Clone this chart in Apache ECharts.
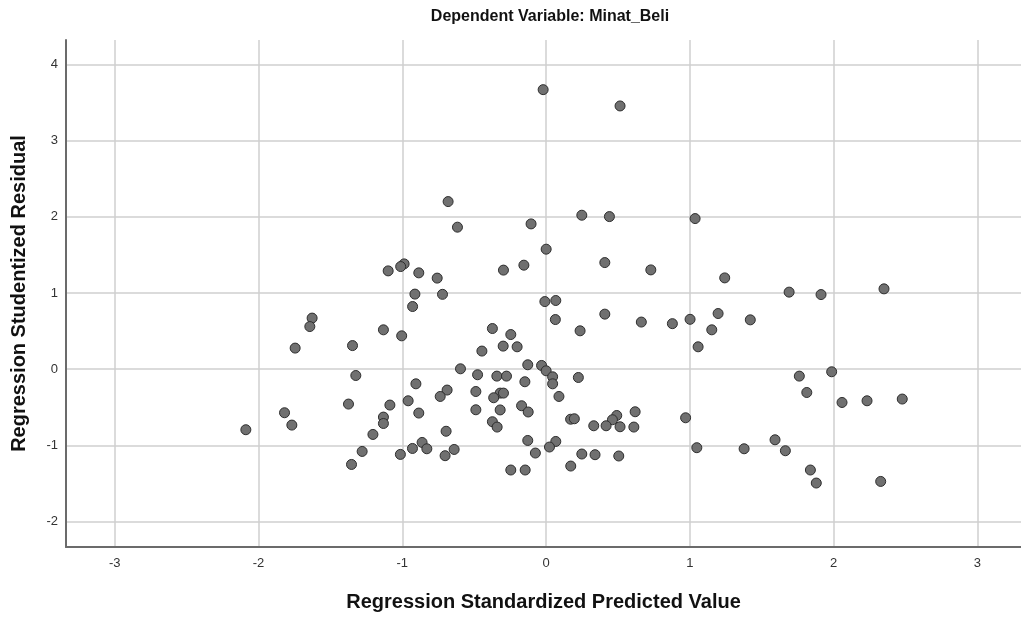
<!DOCTYPE html>
<html>
<head>
<meta charset="utf-8">
<script src="https://cdn.jsdelivr.net/npm/echarts@6/dist/echarts.min.js"></script>
<style>html,body{margin:0;padding:0;background:#fff}#c{width:1021px;height:619px}</style>
</head>
<body>
<div id="c"></div>
<script>
const titleText = "Dependent Variable: Minat_Beli";
const xName = "Regression Standardized Predicted Value";
const yName = "Regression Studentized Residual";
const xTicks = [-3, -2, -1, 0, 1, 2, 3];
const yTicks = [-2, -1, 0, 1, 2, 3, 4];

const predicted = [
  -0.987, -1.011, -1.098, -0.885, -0.757, -0.912, -0.720, -0.928, -1.627, -1.643,
  -1.131, -1.004, -1.745, -1.346, -1.323, -0.905, -0.688, -0.736, -0.959, -1.374,
  -1.086, -1.819, -0.885, -1.131, -1.131, -1.768, -2.088, -0.695, -1.204, -0.862,
  -0.929, -0.829, -1.279, -1.013, -0.702, -1.353,
  -0.020, 0.515, -0.681, -0.616, 0.249, 0.441, -0.104, 0.001, 0.409, 0.729,
  -0.296, -0.154, -0.008, 0.068, 0.065, 0.409, 0.663, 0.879, 1.002, -0.373,
  -0.245, 0.237,
  -0.298, -0.201, -0.446, -0.127, -0.031, -0.595, 0.001, -0.476, -0.342, -0.275,
  0.046, 0.225, -0.147, 0.046, -0.488, -0.319, -0.296, -0.364, 0.090, -0.488,
  -0.319, -0.170, -0.124, 0.620, 0.492, 0.462, 0.171, 0.197, 0.332, 0.418,
  0.515, 0.611, 0.971, -0.373, -0.340, -0.127, 0.068, 0.024, -0.639, -0.074,
  0.249, 0.341, 0.506, 0.172, -0.245, -0.145,
  1.037, 1.243, 1.691, 1.913, 2.351, 1.197, 1.421, 1.153,
  1.058, 1.762, 1.987, 1.814, 2.059, 2.233, 2.478, 1.049, 1.378, 1.593,
  1.665, 1.839, 1.880, 2.328
];
const residual = [
  1.383, 1.348, 1.291, 1.265, 1.196, 0.986, 0.983, 0.823, 0.671, 0.560,
  0.517, 0.438, 0.277, 0.310, -0.083, -0.192, -0.274, -0.358, -0.415, -0.458,
  -0.471, -0.572, -0.576, -0.629, -0.713, -0.734, -0.795, -0.815, -0.857, -0.962,
  -1.041, -1.045, -1.080, -1.119, -1.136, -1.251,
  3.671, 3.457, 2.201, 1.865, 2.022, 2.004, 1.908, 1.576, 1.400, 1.304,
  1.301, 1.366, 0.888, 0.902, 0.652, 0.723, 0.619, 0.598, 0.655, 0.534,
  0.455, 0.504,
  0.303, 0.294, 0.238, 0.058, 0.049, 0.005, -0.021, -0.073, -0.091, -0.091,
  -0.100, -0.109, -0.165, -0.192, -0.293, -0.314, -0.314, -0.375, -0.358, -0.533,
  -0.535, -0.480, -0.562, -0.559, -0.608, -0.664, -0.657, -0.651, -0.743, -0.743,
  -0.756, -0.760, -0.638, -0.690, -0.760, -0.936, -0.949, -1.022, -1.054, -1.101,
  -1.114, -1.123, -1.140, -1.272, -1.324, -1.324,
  1.978, 1.199, 1.012, 0.980, 1.055, 0.731, 0.648, 0.517,
  0.294, -0.091, -0.034, -0.306, -0.437, -0.415, -0.392, -1.031, -1.045, -0.927,
  -1.071, -1.324, -1.495, -1.474
];

const points = predicted.map((x, i) => [x, residual[i]]);

const chart = echarts.init(document.getElementById('c'), null, {renderer: 'canvas'});
const font = 'Arial, "Liberation Sans", sans-serif';
chart.setOption({
  animation: false,
  backgroundColor: '#ffffff',
  title: {
    text: titleText,
    left: 545, top: 4, textAlign: 'center',
    textStyle: {fontFamily: font, fontSize: 16, fontWeight: 'bold', color: '#111'}
  },
  grid: {left: 66, right: 0, top: 40, bottom: 72, containLabel: false},
  xAxis: {
    type: 'value', min: -3.339, max: 3.304,
    name: xName, nameLocation: 'middle', nameGap: 45,
    nameTextStyle: {fontFamily: font, fontSize: 20, fontWeight: 'bold', color: '#111'},
    axisLine: {show: true, onZero: false, lineStyle: {color: '#6b6b6b', width: 2}},
    axisTick: {show: false, customValues: xTicks},
    axisLabel: {customValues: xTicks, fontFamily: font, fontSize: 13, color: '#333', margin: 10},
    splitLine: {show: true, lineStyle: {color: '#cfcfcf', width: 1.5}}
  },
  yAxis: {
    type: 'value', min: -2.335, max: 4.323,
    name: yName, nameLocation: 'middle', nameGap: 37,
    nameTextStyle: {fontFamily: font, fontSize: 20, fontWeight: 'bold', color: '#111'},
    axisLine: {show: true, onZero: false, lineStyle: {color: '#6b6b6b', width: 2}},
    axisTick: {show: false, customValues: yTicks},
    axisLabel: {customValues: yTicks, fontFamily: font, fontSize: 13, color: '#333', margin: 8},
    splitLine: {show: true, lineStyle: {color: '#cfcfcf', width: 1.5}}
  },
  series: [{
    type: 'scatter',
    data: points,
    symbol: 'circle',
    symbolSize: 10,
    itemStyle: {color: '#707070', borderColor: '#2e2e2e', borderWidth: 1, opacity: 1}
  }]
});
</script>
</body>
</html>
